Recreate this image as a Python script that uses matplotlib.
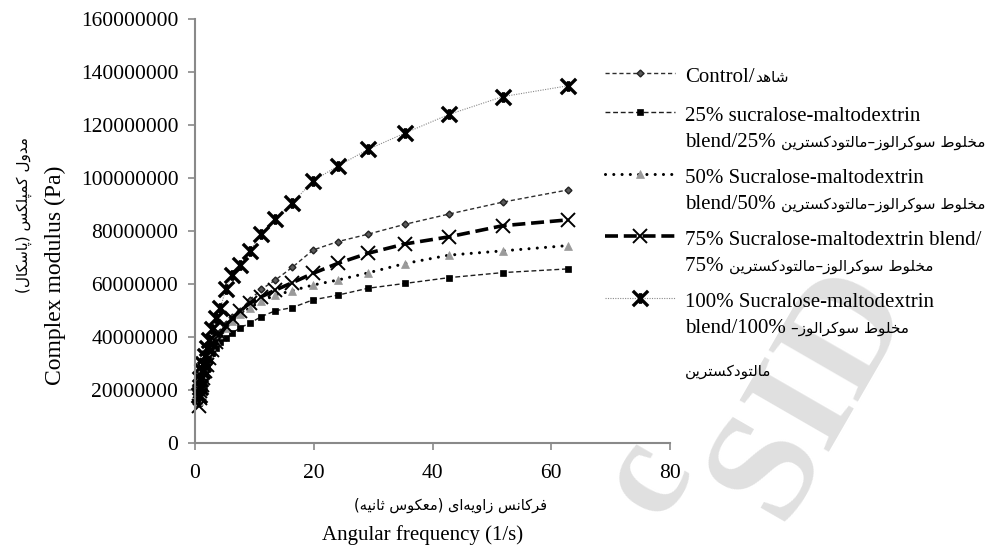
import matplotlib
matplotlib.use("Agg")
import matplotlib.pyplot as plt
from matplotlib.lines import Line2D
from matplotlib.path import Path
from matplotlib.ticker import FuncFormatter, MultipleLocator

plt.rcParams['font.family'] = ['Liberation Serif', 'DejaVu Sans']

# ---------------------------------------------------------------- data
freq = [0.628, 0.761, 0.922, 1.117, 1.353, 1.639, 1.986, 2.406, 2.915, 3.531,
        4.278, 5.183, 6.28, 7.61, 9.22, 11.17, 13.53, 16.39, 19.86, 24.06,
        29.15, 35.31, 42.78, 51.83, 62.8]

control = [18.0e6, 20.0e6, 22.0e6, 24.0e6, 26.0e6, 28.5e6, 31.0e6, 33.5e6, 36.0e6, 39.0e6,
           42.0e6, 45.0e6, 47.5e6, 50.0e6, 54.0e6, 58.0e6, 61.5e6, 66.3e6, 72.8e6, 76.0e6,
           78.8e6, 82.5e6, 86.4e6, 90.9e6, 95.5e6]
blend25 = [15.0e6, 17.5e6, 20.0e6, 22.5e6, 25.0e6, 27.0e6, 29.5e6, 32.0e6, 34.0e6, 36.0e6,
           38.0e6, 39.5e6, 41.5e6, 43.5e6, 45.2e6, 47.7e6, 49.9e6, 51.1e6, 54.0e6, 55.8e6,
           58.4e6, 60.2e6, 62.4e6, 64.3e6, 65.7e6]
blend50 = [16.0e6, 18.5e6, 21.0e6, 23.5e6, 26.0e6, 28.5e6, 31.0e6, 33.5e6, 36.0e6, 38.5e6,
           41.0e6, 43.5e6, 46.0e6, 48.5e6, 51.0e6, 53.5e6, 55.8e6, 57.5e6, 59.6e6, 61.5e6,
           64.2e6, 67.7e6, 70.9e6, 72.5e6, 74.5e6]
blend75 = [14.0e6, 17.0e6, 19.5e6, 22.0e6, 24.5e6, 27.0e6, 29.5e6, 32.0e6, 35.0e6, 38.0e6,
           41.0e6, 44.0e6, 47.0e6, 50.0e6, 52.7e6, 55.2e6, 57.7e6, 60.5e6, 64.0e6, 67.8e6,
           71.6e6, 75.1e6, 77.8e6, 82.0e6, 84.2e6]
blend100 = [18.0e6, 21.0e6, 24.0e6, 27.0e6, 30.0e6, 33.0e6, 36.0e6, 39.0e6, 43.0e6, 47.0e6,
            51.0e6, 58.0e6, 63.5e6, 67.0e6, 72.5e6, 78.8e6, 84.4e6, 90.5e6, 98.9e6, 104.5e6,
            110.8e6, 116.9e6, 124.0e6, 130.7e6, 134.8e6]

x_ticks = [0, 20, 40, 60, 80]
y_max = 160e6
y_step = 20e6

# legend text: (latin first line, latin second-line prefix, persian part)
legend_rows = [
    ("Control/", None, "شاهد"),
    ("25% sucralose-maltodextrin", "blend/25% ", "مخلوط سوکرالوز–مالتودکسترین"),
    ("50% Sucralose-maltodextrin", "blend/50% ", "مخلوط سوکرالوز–مالتودکسترین"),
    ("75% Sucralose-maltodextrin blend/", "75% ", "مخلوط سوکرالوز–مالتودکسترین"),
    ("100% Sucralose-maltodextrin", "blend/100% ", "مخلوط سوکرالوز–"),
]
legend_tail = "مالتودکسترین"

ylabel_en = "Complex modulus (Pa)"
ylabel_fa = "مدول کمپلکس (پاسکال)"
xlabel_en = "Angular frequency (1/s)"
xlabel_fa = "فرکانس زاویه\u200cای (معکوس ثانیه)"

# ---------------------------------------------------------------- Persian shaping
_FORMS = {
    '\u0627': (0xFE8D, 0xFE8E, None, None),
    '\u0622': (0xFE81, 0xFE82, None, None),
    '\u0628': (0xFE8F, 0xFE90, 0xFE91, 0xFE92),
    '\u067E': (0xFB56, 0xFB57, 0xFB58, 0xFB59),
    '\u062A': (0xFE95, 0xFE96, 0xFE97, 0xFE98),
    '\u062B': (0xFE99, 0xFE9A, 0xFE9B, 0xFE9C),
    '\u062C': (0xFE9D, 0xFE9E, 0xFE9F, 0xFEA0),
    '\u0686': (0xFB7A, 0xFB7B, 0xFB7C, 0xFB7D),
    '\u062D': (0xFEA1, 0xFEA2, 0xFEA3, 0xFEA4),
    '\u062E': (0xFEA5, 0xFEA6, 0xFEA7, 0xFEA8),
    '\u062F': (0xFEA9, 0xFEAA, None, None),
    '\u0630': (0xFEAB, 0xFEAC, None, None),
    '\u0631': (0xFEAD, 0xFEAE, None, None),
    '\u0632': (0xFEAF, 0xFEB0, None, None),
    '\u0698': (0xFB8A, 0xFB8B, None, None),
    '\u0633': (0xFEB1, 0xFEB2, 0xFEB3, 0xFEB4),
    '\u0634': (0xFEB5, 0xFEB6, 0xFEB7, 0xFEB8),
    '\u0635': (0xFEB9, 0xFEBA, 0xFEBB, 0xFEBC),
    '\u0636': (0xFEBD, 0xFEBE, 0xFEBF, 0xFEC0),
    '\u0637': (0xFEC1, 0xFEC2, 0xFEC3, 0xFEC4),
    '\u0638': (0xFEC5, 0xFEC6, 0xFEC7, 0xFEC8),
    '\u0639': (0xFEC9, 0xFECA, 0xFECB, 0xFECC),
    '\u063A': (0xFECD, 0xFECE, 0xFECF, 0xFED0),
    '\u0641': (0xFED1, 0xFED2, 0xFED3, 0xFED4),
    '\u0642': (0xFED5, 0xFED6, 0xFED7, 0xFED8),
    '\u06A9': (0xFB8E, 0xFB8F, 0xFB90, 0xFB91),
    '\u06AF': (0xFB92, 0xFB93, 0xFB94, 0xFB95),
    '\u0644': (0xFEDD, 0xFEDE, 0xFEDF, 0xFEE0),
    '\u0645': (0xFEE1, 0xFEE2, 0xFEE3, 0xFEE4),
    '\u0646': (0xFEE5, 0xFEE6, 0xFEE7, 0xFEE8),
    '\u0648': (0xFEED, 0xFEEE, None, None),
    '\u0647': (0xFEE9, 0xFEEA, 0xFEEB, 0xFEEC),
    '\u06CC': (0xFBFC, 0xFBFD, 0xFBFE, 0xFBFF),
}


def fa(text):
    """Contextual letter forms + right-to-left visual order."""
    chars = list(text)
    n = len(chars)
    out = []
    for i, c in enumerate(chars):
        if c == '\u200c':
            continue
        f = _FORMS.get(c)
        if f is None:
            out.append(c)
            continue
        prev = chars[i - 1] if i > 0 else ''
        nxt = chars[i + 1] if i + 1 < n else ''
        joins_prev = prev in _FORMS and _FORMS[prev][2] is not None
        joins_next = f[2] is not None and nxt in _FORMS
        if joins_prev and joins_next:
            code = f[3]
        elif joins_prev:
            code = f[1]
        elif joins_next:
            code = f[2]
        else:
            code = f[0]
        out.append(chr(code))
    mirror = {'(': ')', ')': '('}
    return ''.join(mirror.get(c, c) for c in reversed(out))


# ---------------------------------------------------------------- figure
W, H = 990, 549
fig = plt.figure(figsize=(W / 100, H / 100), dpi=100)
fig.patch.set_facecolor('white')


def fx(px):
    return px / W


def fy(py):
    return 1 - py / H


# faint watermark behind everything
wm = dict(fontsize=112, fontweight='bold', family='Liberation Serif',
          color='#e0e0e0', rotation=60, ha='center', va='center', zorder=-10)
fig.text(fx(812), fy(392), "SID", **wm)
fig.text(fx(648), fy(478), "c", **dict(wm, fontsize=100))

ax = fig.add_axes([fx(195), 1 - 443 / H, 475 / W, 424 / H])
ax.set_facecolor('none')

star = Path([(-1, -1), (1, 1), (-1, 1), (1, -1), (0, -0.7), (0, 0.7)],
            [Path.MOVETO, Path.LINETO, Path.MOVETO, Path.LINETO, Path.MOVETO, Path.LINETO])

styles = [
    dict(color='#2e2e2e', lw=1.0, dashes=(3, 2), marker='D', ms=3.5,
         mfc='#5a5a5a', mec='#222222', mew=1.0),
    dict(color='#1e1e1e', lw=1.0, dashes=(3.5, 2), marker='s', ms=4.8,
         mfc='black', mec='black', mew=0.5),
    dict(color='black', lw=2.2, dashes=(0.01, 2.7), dash_capstyle='round', marker='^',
         ms=5.5, mfc='#9a9a9a', mec='#9a9a9a', mew=0.5),
    dict(color='black', lw=2.6, dashes=(3.6, 1.6), marker='x', ms=10.5,
         mec='black', mew=1.4),
    dict(color='#8a8a8a', lw=0.8, dashes=(1, 1.2), marker=star, ms=11,
         mec='black', mew=2.4),
]
series = [control, blend25, blend50, blend75, blend100]

for vals, st in zip(series, styles):
    ax.plot(freq, vals, **st, clip_on=False)

ax.set_xlim(0, 80)
ax.set_ylim(0, y_max)
ax.set_xticks(x_ticks)
ax.yaxis.set_major_locator(MultipleLocator(y_step))
ax.yaxis.set_major_formatter(FuncFormatter(lambda v, p: f"{int(round(v))}"))
for s in ('top', 'right'):
    ax.spines[s].set_visible(False)
for s in ('left', 'bottom'):
    ax.spines[s].set_color('#898989')
    ax.spines[s].set_linewidth(1.5)
ax.tick_params(axis='both', colors='#898989', labelcolor='black', labelsize=15.5,
               direction='out', length=5, width=1.2)
ax.tick_params(axis='x', pad=10)
ax.tick_params(axis='y', pad=7)

# axis titles
fig.text(fx(55), fy(275), ylabel_en, rotation=90, fontsize=17, ha='center', va='center')
fig.text(fx(24), fy(215), fa(ylabel_fa), rotation=90, fontsize=11,
         family='DejaVu Sans', ha='center', va='center')
fig.text(fx(423), fy(535), xlabel_en, fontsize=15, ha='center', va='center')
fig.text(fx(450), fy(505), fa(xlabel_fa), fontsize=10.5,
         family='DejaVu Sans', ha='center', va='center')

# ---------------------------------------------------------------- legend
renderer = fig.canvas.get_renderer()


def mixed_line(x_px, base_px, latin, persian, lsize=15, psize=11):
    t = fig.text(fx(x_px), fy(base_px), latin, fontsize=lsize, ha='left', va='baseline')
    if persian:
        bb = t.get_window_extent(renderer)
        gap = 0 if latin.endswith(' ') else 1
        fig.text(bb.x1 / W + gap / W, fy(base_px), fa(persian), fontsize=psize,
                 family='DejaVu Sans', ha='left', va='baseline')


handle_y = [73, 112, 174, 236, 298]
line_gap = 26
hx0, hx1, hxm = 605, 675, 640
text_x = 685

for st, hy, (l1, l2, pers) in zip(styles, handle_y, legend_rows):
    h = Line2D([fx(hx0), fx(hxm), fx(hx1)], [fy(hy)] * 3, transform=fig.transFigure,
               markevery=[1], **st)
    fig.add_artist(h)
    ly = hy + 2
    if l2 is None:
        mixed_line(text_x, ly + 7, l1, pers)
    else:
        mixed_line(text_x, ly + 7, l1, None)
        mixed_line(text_x, ly + line_gap + 7, l2, pers)

fig.text(fx(text_x), fy(370 + 6), fa(legend_tail), fontsize=11,
         family='DejaVu Sans', ha='left', va='baseline')

fig.savefig('out.png', dpi=100, facecolor='white')
